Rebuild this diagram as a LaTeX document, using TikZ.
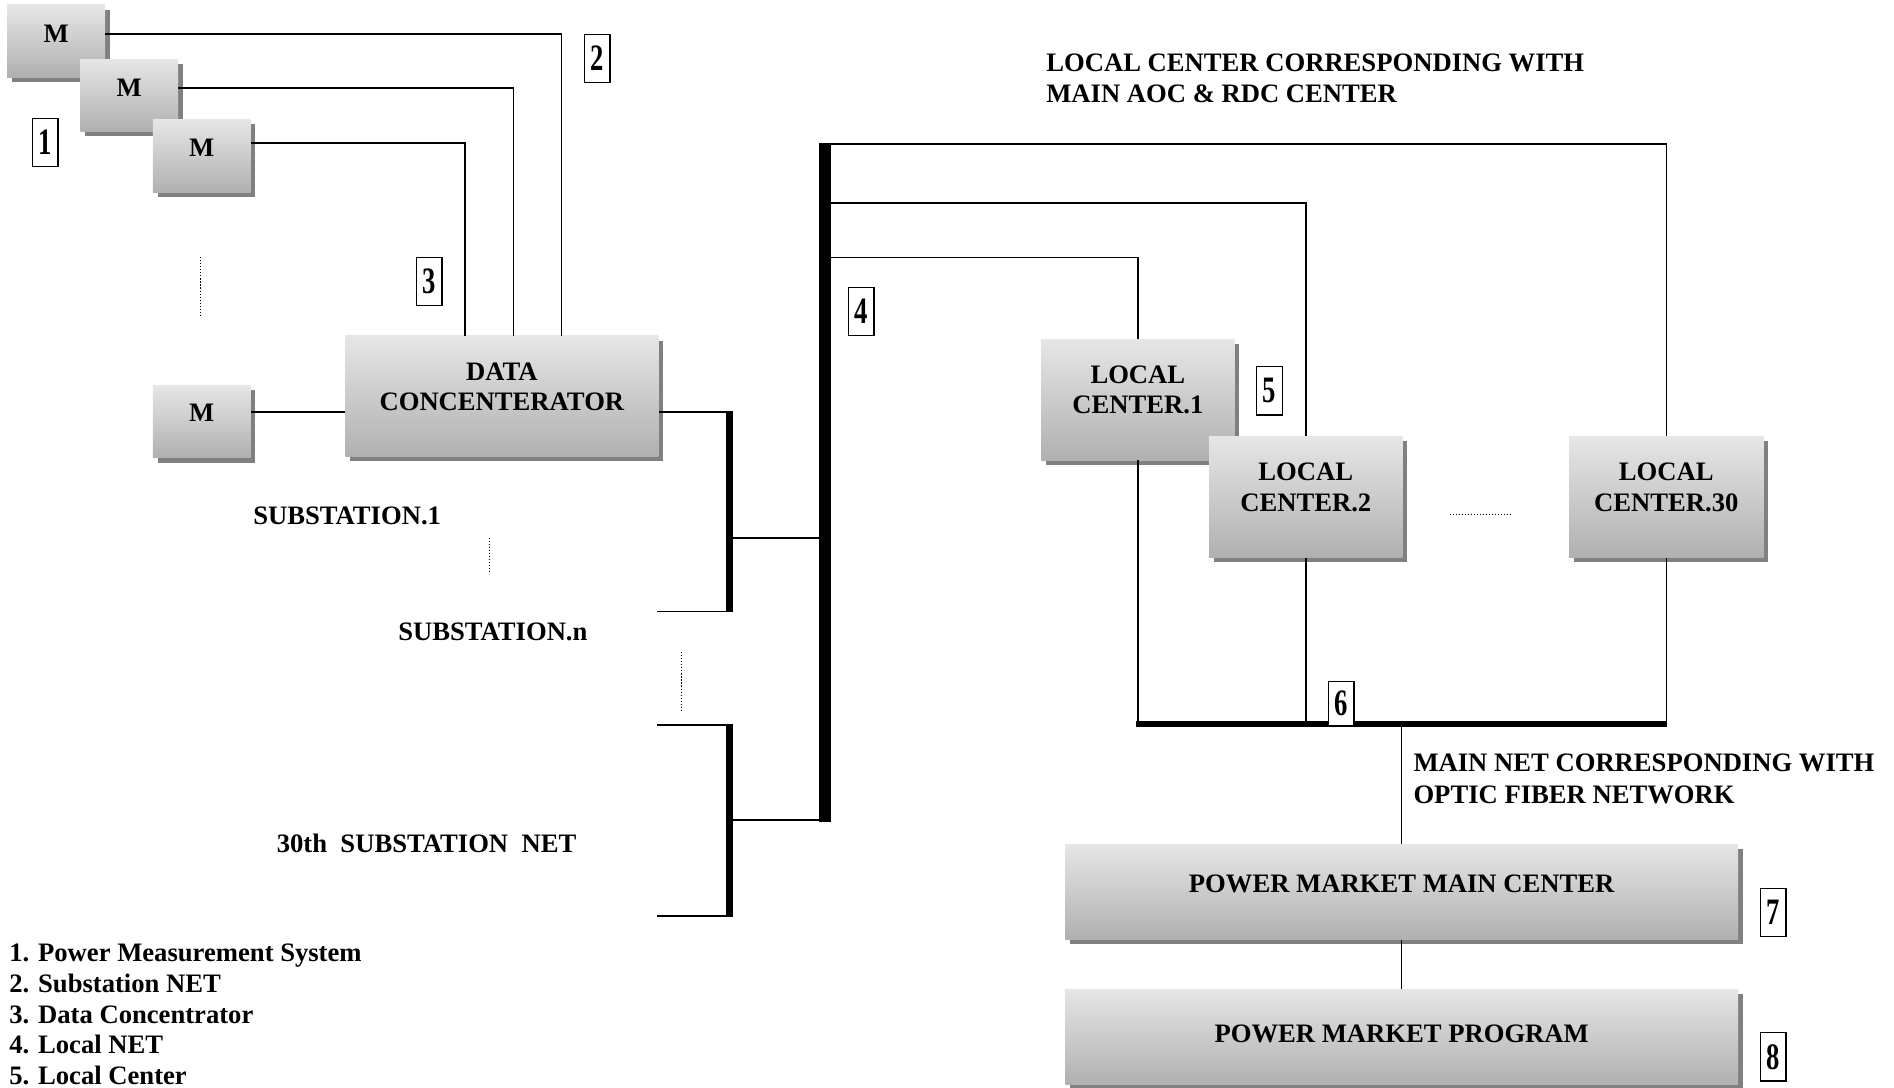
\documentclass[tikz,border=0pt]{standalone}
\usepackage{graphicx}
\usepackage{fontspec}
\setmainfont{Liberation Serif}
\usetikzlibrary{shadows}
\definecolor{gtop}{HTML}{E6E6E6}
\definecolor{gbot}{HTML}{B0B0B0}
\definecolor{shgray}{HTML}{808080}
\newcommand\numglyph[1]{\scalebox{1.0}[1.4]{#1}}
\begin{document}
\begin{tikzpicture}[x=1pt,y=-1pt,
  every node/.style={font=\fontsize{22.05}{25}\selectfont\bfseries, inner sep=0pt},
  gbox/.style={rectangle, top color=gtop, bottom color=gbot,
    drop shadow={shadow xshift=4pt,shadow yshift=-4pt,fill=shgray,opacity=1}},
  btext/.style={align=center},
  numbox/.style={draw=black, line width=1pt, fill=white, minimum width=21pt, minimum height=40pt},
  wire/.style={line width=1.3pt},
  thinbus/.style={line width=6pt},
  mainbus/.style={line width=10pt},
  lowbus/.style={line width=5pt},
  dots/.style={line width=0.9pt, dash pattern=on 0.9pt off 1.6pt},
  plain/.style={anchor=base west}
]
\useasboundingbox (0,0) rectangle (1568,900);

% ---- measurement boxes
\node[gbox, minimum width=81pt, minimum height=60pt] (m1) at (46.5,34) {};
\node (m1t) at ([yshift=6pt]m1.center) {M};
\node[gbox, minimum width=81pt, minimum height=60pt] (m2) at (107,79) {};
\node (m2t) at ([yshift=6pt]m2.center) {M};
\node[gbox, minimum width=81pt, minimum height=60pt] (m3) at (167,129) {};
\node (m3t) at ([yshift=7pt]m3.center) {M};
\node[gbox, minimum width=81pt, minimum height=60pt] (m4) at (167,349) {};
\node (m4t) at ([yshift=7pt]m4.center) {M};

% ---- data concentrator
\node[gbox, minimum width=259pt, minimum height=100pt] (dc) at (415.5,328) {};
\node[btext] (dct) at ([yshift=8pt]dc.center) {DATA\\CONCENTERATOR};

% ---- drop positions
\coordinate (x1) at (465,0);
\coordinate (x2) at (425,0);
\coordinate (x3) at (385,0);
\draw[wire] (m1.east |- 0,28) -| (x1 |- dc.north);
\draw[wire] (m2.east |- 0,73) -| (x2 |- dc.north);
\draw[wire] (m3.east |- 0,118.5) -| (x3 |- dc.north);
\draw[wire] (m4.east |- 0,341) -- (dc.west |- 0,341);

% ---- substation buses
\coordinate (bAt) at (604,340.4);
\coordinate (bAb) at (604,507);
\coordinate (bBt) at (604,599.4);
\coordinate (bBb) at (604,759);
\coordinate (sA) at (544,506.3);
\coordinate (sB1) at (544,600);
\coordinate (sB2) at (544,758.3);
\coordinate (cA) at (604,445.5);
\coordinate (cB) at (604,679);
\coordinate (b4t) at (683,118.4);
\coordinate (b4b) at (683,680.3);
\draw[thinbus] (bAt) -- (bAb);
\draw[thinbus] (bBt) -- (bBb);
\draw[wire] (dc.east |- 0,341) -- (bAt |- 0,341);
\draw[wire] (sA) -- (sA -| bAt);
\draw[wire] (sB1) -- (sB1 -| bBt);
\draw[wire] (sB2) -- (sB2 -| bBt);
\draw[wire] (cA) -- (cA -| b4t);
\draw[wire] (cB) -- (cB -| b4t);
\draw[mainbus] (b4t) -- (b4b);

% ---- local centers
\node[gbox, minimum width=160pt, minimum height=100pt] (lc1) at (942,331) {};
\node[btext] (lc1t) at ([yshift=8pt]lc1.center) {LOCAL\\CENTER.1};
\node[gbox, minimum width=160pt, minimum height=100pt] (lc2) at (1081,411.5) {};
\node[btext] (lc2t) at ([yshift=8pt]lc2.center) {LOCAL\\CENTER.2};
\node[gbox, minimum width=161pt, minimum height=100pt] (lc30) at (1379.5,411.5) {};
\node[btext] (lc30t) at ([yshift=8pt]lc30.center) {LOCAL\\CENTER.30};

\coordinate (t30) at (683,119);
\coordinate (t2) at (683,168);
\coordinate (t1) at (683,213);
\draw[wire] (t30) -| (lc30.north);
\draw[wire] (t2) -| (lc2.north);
\draw[wire] (t1) -| (lc1.north);

% ---- main net bus
\coordinate (b6l) at (940.4,599.5);
\coordinate (b6r) at (1380.1,599.5);
\coordinate (mn) at (1160.4,599.5);
\draw[wire] (lc1.south) -- (lc1.south |- b6l);
\draw[wire] (lc2.south) -- (lc2.south |- b6l);
\draw[wire] (lc30.south) -- (lc30.south |- b6l);
\draw[lowbus] (b6l) -- (b6r);

% ---- power market boxes
\node[gbox, minimum width=557pt, minimum height=79pt] (pmmc) at (1160.4,738.4) {};
\node (pmmct) at ([yshift=7pt]pmmc.center) {POWER MARKET MAIN CENTER};
\node[gbox, minimum width=557pt, minimum height=79pt] (pmp) at (1160.4,858.5) {};
\node (pmpt) at ([yshift=2.5pt]pmp.center) {POWER MARKET PROGRAM};
\draw[wire] (mn) -- (pmmc.north);
\draw[wire] (pmmc.south) -- (pmp.north);

% ---- number labels
\node[numbox] (n1) at (37.5,118) {\numglyph{1}};
\node[numbox] (n2) at (494.5,48.5) {\numglyph{2}};
\node[numbox] (n3) at (355.5,233) {\numglyph{3}};
\node[numbox] (n4) at (713,258) {\numglyph{4}};
\node[numbox] (n5) at (1051,323.5) {\numglyph{5}};
\node[numbox, minimum height=36pt] (n6) at (1110.5,582.5) {\numglyph{6}};
\node[numbox] (n7) at (1468,755.5) {\numglyph{7}};
\node[numbox] (n8) at (1468,875) {\numglyph{8}};

% ---- dotted ellipses
\draw[dots] (166,213) -- (166,261);
\draw[dots] (405,445) -- (405,475);
\draw[dots] (564,540) -- (564,589);
\draw[dots] (1200,426) -- (1252,426);

% ---- free texts
\node[plain] (s1) at (209.5,434.6) {SUBSTATION.1};
\node[plain] (sn) at (329.5,530) {SUBSTATION.n};
\node[plain] (s30) at (229,706) {30th\ \ SUBSTATION\ \ NET};
\node[plain] (lcc1) at (866,59.3) {LOCAL CENTER CORRESPONDING WITH};
\node[plain] (lcc2) at (866,85) {MAIN AOC \& RDC CENTER};
\node[plain] (mnt1) at (1170,639) {MAIN NET CORRESPONDING WITH};
\node[plain] (mnt2) at (1170,665) {OPTIC FIBER NETWORK};

% ---- legend
\node[plain] (leg1) at (7.5,796) {1. Power Measurement System};
\node[plain] (leg2) at (7.5,821.5) {2. Substation NET};
\node[plain] (leg3) at (7.5,847) {3. Data Concentrator};
\node[plain] (leg4) at (7.5,872.5) {4. Local NET};
\node[plain] (leg5) at (7.5,898) {5. Local Center};
\end{tikzpicture}
\end{document}
